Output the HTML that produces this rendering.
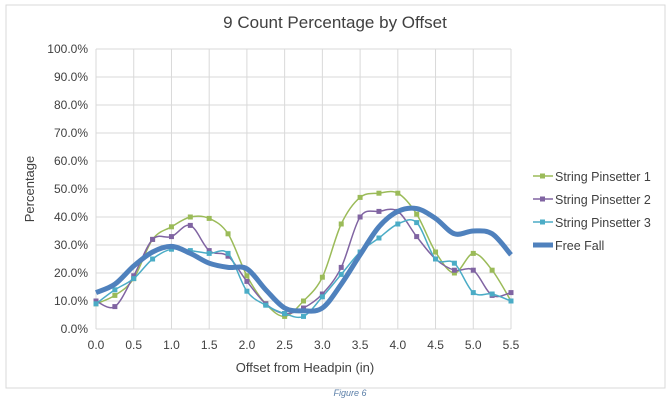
<!DOCTYPE html>
<html><head><meta charset="utf-8"><style>
body{margin:0;background:#fff;width:670px;height:400px;overflow:hidden}
svg text{font-family:"Liberation Sans",sans-serif;fill:#404040}
</style></head><body>
<svg id="s" width="670" height="400" xmlns="http://www.w3.org/2000/svg">
<rect x="6" y="5" width="659" height="383" fill="#fff" stroke="#d9d9d9"/>
<text x="335" y="28" font-size="17" text-anchor="middle">9 Count Percentage by Offset</text>
<g id="grid" stroke="#d9d9d9" stroke-width="1"></g>
<g id="lab" font-size="12"></g>
<text x="305" y="372" font-size="13" text-anchor="middle">Offset from Headpin (in)</text>
<text transform="translate(34,189) rotate(-90)" font-size="13" text-anchor="middle">Percentage</text>
<g id="series"></g>
<g font-size="12.5">
<line x1="533" y1="176" x2="553" y2="176" stroke="#9bbb59" stroke-width="1.5"/><rect x="540" y="173.5" width="5" height="5" fill="#9bbb59"/>
<text x="555" y="181">String Pinsetter 1</text>
<line x1="533" y1="199" x2="553" y2="199" stroke="#8064a2" stroke-width="1.5"/><rect x="540" y="196.5" width="5" height="5" fill="#8064a2"/>
<text x="555" y="204">String Pinsetter 2</text>
<line x1="533" y1="222" x2="553" y2="222" stroke="#4bacc6" stroke-width="1.5"/><rect x="540" y="219.5" width="5" height="5" fill="#4bacc6"/>
<text x="555" y="227">String Pinsetter 3</text>
<line x1="533" y1="245" x2="553" y2="245" stroke="#4f81bd" stroke-width="5"/>
<text x="555" y="250">Free Fall</text>
</g>
<text x="350" y="396" font-size="9" font-style="italic" text-anchor="middle" style="fill:#5b7fa8">Figure 6</text>
</svg>
<script>
var L=96,R=511,T=49,B=329,NS="http://www.w3.org/2000/svg";
function X(i){return L+i*(R-L)/22}function Y(v){return B-v*(B-T)/100}
var g=document.getElementById('grid'),lab=document.getElementById('lab'),se=document.getElementById('series');
function el(p,t,a,txt){var e=document.createElementNS(NS,t);for(var k in a)e.setAttribute(k,a[k]);if(txt)e.textContent=txt;p.appendChild(e);return e}
for(var v=0;v<=100;v+=10){el(g,'line',{x1:L,x2:R,y1:Y(v),y2:Y(v)});el(lab,'text',{x:L-8,y:Y(v)+4,'text-anchor':'end'},v.toFixed(1)+'%')}
for(var i=0;i<=22;i+=2){el(g,'line',{x1:X(i),x2:X(i),y1:T,y2:B});el(lab,'text',{x:X(i),y:B+20,'text-anchor':'middle'},(i/4).toFixed(1))}
function path(d){var p=d.map(function(v,i){return[X(i),Y(v)]}),s='M'+p[0][0]+','+p[0][1];
for(var i=0;i<p.length-1;i++){var a=p[Math.max(i-1,0)],b=p[i],c=p[i+1],e=p[Math.min(i+2,p.length-1)];
s+=' C'+(b[0]+(c[0]-a[0])/6)+','+(b[1]+(c[1]-a[1])/6)+' '+(c[0]-(e[0]-b[0])/6)+','+(c[1]-(e[1]-b[1])/6)+' '+c[0]+','+c[1]}return s}
var S=[["#9bbb59",[9,12,18,32,36.5,40,39.5,34,19,9,4.5,10,18.5,37.5,47,48.5,48.5,41,27.5,20,27,21,10]],
["#8064a2",[10,8,19,32,33,37,28,26,17,9,5.5,7.5,12.5,22,40,42,42,33,25,21,21,12,13]],
["#4bacc6",[9,14,18,25,28.5,28,27,27,13.5,8.5,5.5,4.5,11.5,19.5,27.5,32.5,37.5,38,25,23.5,13,12.5,10]]];
S.forEach(function(s){el(se,'path',{d:path(s[1]),fill:'none',stroke:s[0],'stroke-width':1.5});
s[1].forEach(function(v,i){el(se,'rect',{x:X(i)-2.5,y:Y(v)-2.5,width:5,height:5,fill:s[0]})})});
el(se,'path',{d:path([13,16,22.5,27.5,29.5,27,23.5,22,21.5,14,7.5,6.5,7.5,16,26.5,36.5,42,43,39.5,34,35,34,26.5]),fill:'none',stroke:'#4f81bd','stroke-width':5,'stroke-linejoin':'round'});
</script>
</body></html>
